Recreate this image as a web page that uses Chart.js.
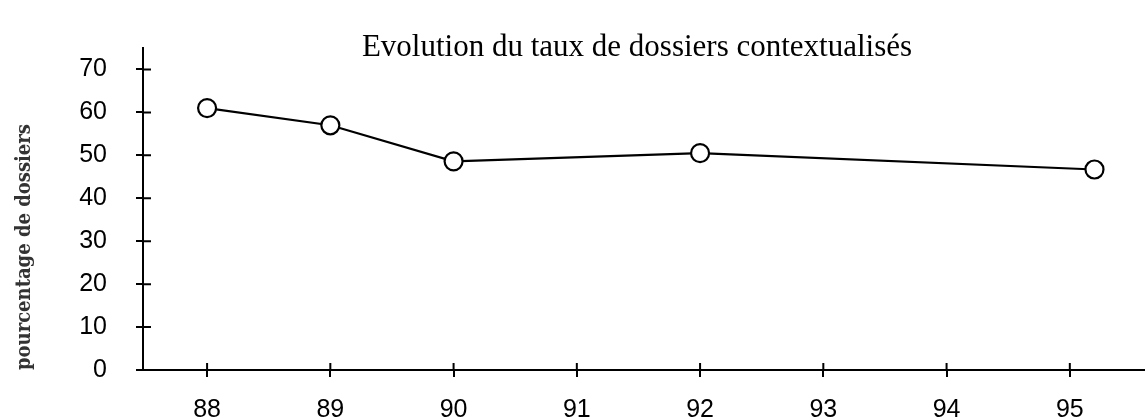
<!DOCTYPE html>
<html>
<head>
<meta charset="utf-8">
<script src="https://cdn.jsdelivr.net/npm/chart.js@4/dist/chart.umd.min.js"></script>
<style>
  html, body { margin: 0; padding: 0; background: #fff; }
  canvas { display: block; }
</style>
</head>
<body>
<canvas id="tauxChart" width="1145" height="419"></canvas>
<script>
// années de mesure et taux correspondants (%)
const annees = [88, 89, 90, 92, 95.2];
const taux = [61, 57, 48.6, 50.5, 46.7];
const anneesAxe = [88, 89, 90, 91, 92, 93, 94, 95];
const pourcentsAxe = [0, 10, 20, 30, 40, 50, 60, 70];
const titre = 'Evolution du taux de dossiers contextualisés';
const titreAxeY = 'pourcentage de dossiers';

// titre centré au-dessus de la zone du graphique
const titrePlugin = {
  id: 'titre',
  afterDraw(chart) {
    const { ctx, chartArea } = chart;
    ctx.save();
    ctx.font = '31px "Liberation Serif"';
    ctx.fillStyle = '#000';
    ctx.textAlign = 'center';
    ctx.textBaseline = 'alphabetic';
    ctx.fillText(titre, (chartArea.left + chartArea.right) / 2 - 7, 56);
    ctx.restore();
  }
};

// petites graduations qui traversent les axes
const graduationsPlugin = {
  id: 'graduations',
  afterDraw(chart) {
    const { ctx, chartArea, scales } = chart;
    ctx.save();
    ctx.strokeStyle = '#000';
    ctx.lineWidth = 2;
    ctx.beginPath();
    scales.y.ticks.forEach(t => {
      const y = scales.y.getPixelForValue(t.value);
      ctx.moveTo(chartArea.left, y);
      ctx.lineTo(chartArea.left + 8, y);
    });
    scales.x.ticks.forEach(t => {
      const x = scales.x.getPixelForValue(t.value);
      ctx.moveTo(x, chartArea.bottom);
      ctx.lineTo(x, chartArea.bottom - 7);
    });
    ctx.stroke();
    ctx.restore();
  }
};

const ctx = document.getElementById('tauxChart');
new Chart(ctx, {
  type: 'line',
  data: {
    datasets: [{
      data: annees.map((a, i) => ({ x: a, y: taux[i] })),
      borderColor: '#000',
      borderWidth: 2.2,
      pointRadius: 9,
      pointBorderWidth: 2.2,
      pointBackgroundColor: '#fff',
      pointBorderColor: '#000',
      tension: 0,
      clip: false
    }]
  },
  options: {
    responsive: false,
    animation: false,
    layout: { autoPadding: false, padding: { top: 48, left: 0, right: 0, bottom: 0 } },
    plugins: {
      legend: { display: false },
      tooltip: { enabled: false }
    },
    scales: {
      x: {
        type: 'linear',
        min: 87.48,
        max: 95.61,
        afterBuildTicks: axis => { axis.ticks = anneesAxe.map(v => ({ value: v })); },
        afterFit: axis => { axis.height = 49; },
        border: { display: true, color: '#000', width: 2 },
        grid: { drawOnChartArea: false, drawTicks: true, tickLength: 7, color: '#000', lineWidth: 2 },
        ticks: {
          color: '#000',
          padding: 18,
          maxRotation: 0,
          font: { family: '"Liberation Sans", Arial', size: 25 }
        }
      },
      y: {
        min: 0,
        max: 75,
        afterBuildTicks: axis => { axis.ticks = pourcentsAxe.map(v => ({ value: v })); },
        afterFit: axis => { axis.width = 143; },
        border: { display: true, color: '#000', width: 2 },
        grid: { drawOnChartArea: false, drawTicks: true, tickLength: 7, color: '#000', lineWidth: 2 },
        ticks: {
          color: '#000',
          padding: 29,
          font: { family: '"Liberation Sans", Arial', size: 25 }
        },
        title: {
          display: true,
          text: titreAxeY,
          align: 'start',
          color: '#333',
          padding: { top: 13, bottom: 0 },
          font: { family: '"DejaVu Serif Condensed", "DejaVu Serif"', size: 20, weight: 'bold' }
        }
      }
    }
  },
  plugins: [titrePlugin, graduationsPlugin]
});
</script>
</body>
</html>
